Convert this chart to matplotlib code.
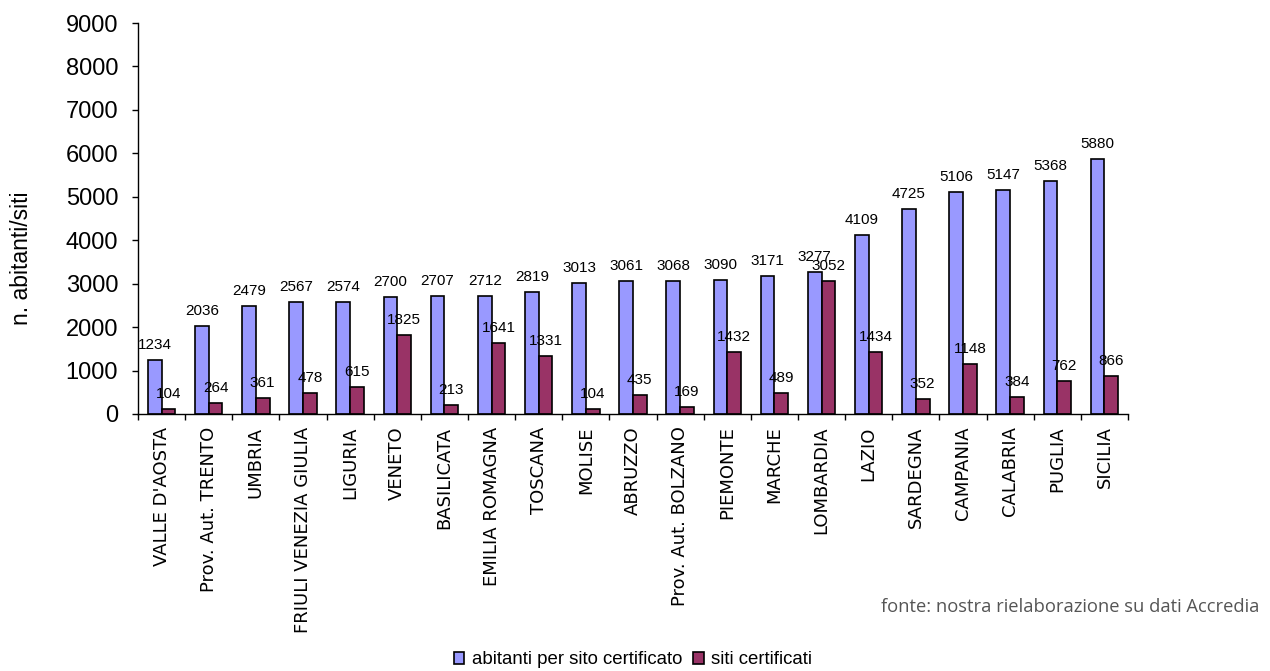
import matplotlib
matplotlib.use("Agg")
import matplotlib.pyplot as plt
import numpy as np
from matplotlib import font_manager

regions = ["VALLE D'AOSTA", "Prov. Aut. TRENTO", "UMBRIA", "FRIULI VENEZIA GIULIA",
           "LIGURIA", "VENETO", "BASILICATA", "EMILIA ROMAGNA", "TOSCANA", "MOLISE",
           "ABRUZZO", "Prov. Aut. BOLZANO", "PIEMONTE", "MARCHE", "LOMBARDIA", "LAZIO",
           "SARDEGNA", "CAMPANIA", "CALABRIA", "PUGLIA", "SICILIA"]
abitanti = [1234, 2036, 2479, 2567, 2574, 2700, 2707, 2712, 2819, 3013,
            3061, 3068, 3090, 3171, 3277, 4109, 4725, 5106, 5147, 5368, 5880]
siti = [104, 264, 361, 478, 615, 1825, 213, 1641, 1331, 104,
        435, 169, 1432, 489, 3052, 1434, 352, 1148, 384, 762, 866]
yticks = [0, 1000, 2000, 3000, 4000, 5000, 6000, 7000, 8000, 9000]

names = {f.name for f in font_manager.fontManager.ttflist}
narrow = "Liberation Sans Narrow" if "Liberation Sans Narrow" in names else "DejaVu Sans Condensed"
plt.rcParams['font.family'] = ['Liberation Sans', 'DejaVu Sans']

fig = plt.figure(figsize=(12.7, 6.71), dpi=100)
ax = fig.add_axes([138/1270, 1-414/671, (1128-138)/1270, (414-23)/671])

x = np.arange(len(regions))
w = 0.29
blue = "#9999FF"
red = "#993366"
b1 = ax.bar(x - w/2, abitanti, w, color=blue, edgecolor="black", linewidth=1.2,
            label="abitanti per sito certificato")
b2 = ax.bar(x + w/2, siti, w, color=red, edgecolor="black", linewidth=1.2,
            label="siti certificati")

for bars, vals in ((b1, abitanti), (b2, siti)):
    for rect, v in zip(bars, vals):
        ax.annotate(str(v), (rect.get_x() + rect.get_width()/2, rect.get_height()),
                    xytext=(0, 8), textcoords="offset pixels", ha="center", va="bottom",
                    fontsize=11, color="black")

ax.set_xlim(-0.5, len(regions) - 0.5)
ax.set_ylim(0, 9000)
ax.set_yticks(yticks)
ax.tick_params(axis="y", labelsize=17, length=4.3, width=1, pad=10, direction="out")
ax.set_xticks(x)
ax.set_xticklabels(regions, rotation=90, fontsize=13, family=[narrow, 'DejaVu Sans'],
                   va="top", ha="center")
ax.tick_params(axis="x", which="major", length=0, pad=9)
ax.set_xticks(np.arange(len(regions) + 1) - 0.5, minor=True)
ax.tick_params(axis="x", which="minor", length=4, width=1, direction="out")
for s in ("top", "right"):
    ax.spines[s].set_visible(False)
for s in ("left", "bottom"):
    ax.spines[s].set_linewidth(1)

fig.text(22/1270, 1-258/671, "n. abitanti/siti", rotation=90, ha="center", va="center",
         fontsize=16.5)
fig.text(1259/1270, 1-607/671, "fonte: nostra rielaborazione su dati Accredia",
         ha="right", va="center", fontsize=13.2, family=["Open Sans", "DejaVu Sans"],
         color="#555555")

fig.legend(handles=[b1, b2], loc="center", bbox_to_anchor=(633/1270, 1-660/671), ncol=2,
           frameon=False, fontsize=13.4, handlelength=0.55, handleheight=0.55,
           handletextpad=0.4, columnspacing=0.6, borderpad=0)

fig.savefig("out.png", dpi=100, facecolor="white")
